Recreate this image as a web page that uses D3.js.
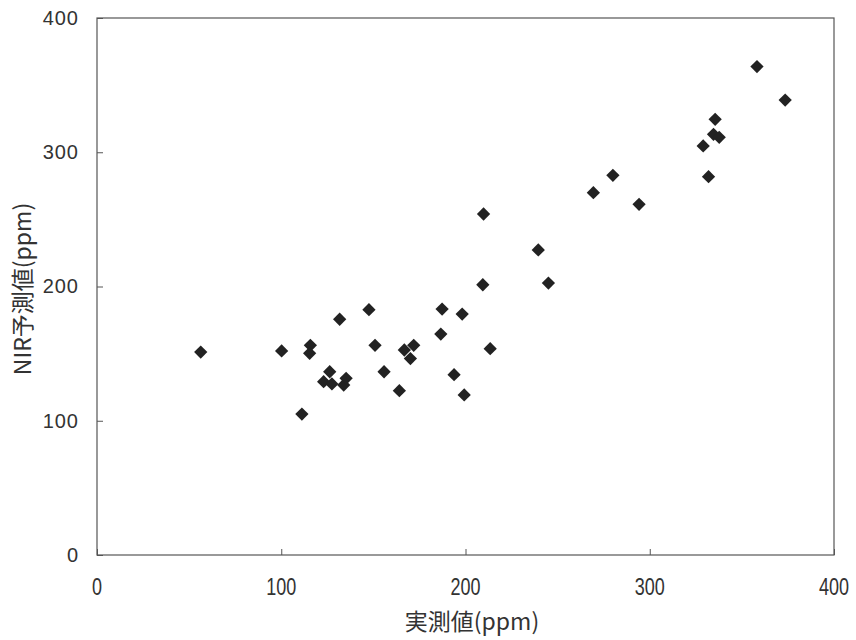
<!DOCTYPE html>
<html>
<head>
<meta charset="utf-8">
<script src="https://cdn.jsdelivr.net/npm/d3@7"></script>
<style>
  html, body { margin: 0; padding: 0; background: #ffffff; }
  svg { display: block; }
</style>
</head>
<body>
<svg id="chart" width="856" height="640"></svg>
<script>
// Measured concentration (ppm) vs NIR-predicted concentration (ppm)
const measured = [
  56.3, 100.2, 115.8, 115.4, 111.2, 123.0, 126.3, 127.5, 133.9, 135.2,
  131.7, 147.6, 150.9, 155.8, 164.1, 166.8, 170.1, 171.9, 186.6, 187.3,
  193.8, 198.2, 199.3, 209.4, 209.8, 213.4, 239.5, 245.0, 269.4, 280.0,
  294.2, 329.0, 331.9, 334.6, 335.5, 337.7, 358.2, 373.5
];
const predicted = [
  151.2, 152.0, 156.2, 150.2, 105.0, 129.1, 136.5, 127.4, 126.6, 131.6,
  175.6, 182.7, 156.2, 136.5, 122.4, 152.7, 146.3, 156.2, 164.6, 183.2,
  134.3, 179.5, 119.2, 201.3, 254.0, 153.7, 227.2, 202.6, 269.9, 282.8,
  261.2, 304.7, 281.8, 313.4, 324.5, 311.1, 363.8, 338.9
];
const xTicks = [0, 100, 200, 300, 400];
const yTicks = [0, 100, 200, 300, 400];
const xTitle = "実測値(ppm)";
const yTitle = "NIR予測値(ppm)";

const svg = d3.select("#chart");
const plot = { left: 97, right: 834, top: 18, bottom: 555 };

const x = d3.scaleLinear().domain([0, 400]).range([plot.left, plot.right]);
const y = d3.scaleLinear().domain([0, 400]).range([plot.bottom, plot.top]);

const axisColor = "#555";
const textColor = "#333";
const font = "'Liberation Sans', 'Noto Sans CJK JP', sans-serif";
const cjkFont = "'Noto Sans CJK JP', sans-serif";

// plot frame
svg.append("rect")
  .attr("x", plot.left).attr("y", plot.top)
  .attr("width", plot.right - plot.left).attr("height", plot.bottom - plot.top)
  .attr("fill", "none").attr("stroke", axisColor).attr("stroke-width", 1.2);

// bottom axis: inward ticks, labels drawn separately (condensed)
const gx = svg.append("g").attr("transform", `translate(0,${plot.bottom})`)
  .call(d3.axisBottom(x).tickValues(xTicks).tickSizeInner(-6).tickSizeOuter(0).tickFormat(""));
gx.select(".domain").remove();
gx.selectAll(".tick line").attr("stroke", axisColor);
svg.append("g").selectAll("text").data(xTicks).join("text")
  .attr("transform", d => `translate(${x(d)},${plot.bottom + 40}) scale(0.75,1)`)
  .attr("text-anchor", "middle")
  .attr("font-family", font).attr("font-size", 24)
  .attr("fill", textColor)
  .text(d => d);

// left axis: inward ticks
const gy = svg.append("g").attr("transform", `translate(${plot.left},0)`)
  .call(d3.axisLeft(y).tickValues(yTicks).tickSizeInner(-6).tickSizeOuter(0).tickPadding(18));
gy.select(".domain").remove();
gy.selectAll(".tick line").attr("stroke", axisColor);
gy.selectAll(".tick text")
  .attr("font-family", font).attr("font-size", 20)
  .attr("letter-spacing", "1px")
  .attr("fill", textColor);

// axis titles
svg.append("text")
  .attr("x", 472).attr("y", 630)
  .attr("text-anchor", "middle")
  .attr("font-family", cjkFont).attr("font-size", 23)
  .attr("fill", textColor)
  .text(xTitle);
svg.append("text")
  .attr("transform", `translate(31,289) rotate(-90)`)
  .attr("text-anchor", "middle")
  .attr("font-family", cjkFont).attr("font-size", 23)
  .attr("fill", textColor)
  .text(yTitle);

// diamond markers
svg.append("g").selectAll("path")
  .data(measured.map((m, i) => ({ m, p: predicted[i] })))
  .join("path")
  .attr("transform", d => `translate(${x(d.m)},${y(d.p)}) rotate(45)`)
  .attr("d", d3.symbol().type(d3.symbolSquare).size(88))
  .attr("fill", "#222");
</script>
</body>
</html>
